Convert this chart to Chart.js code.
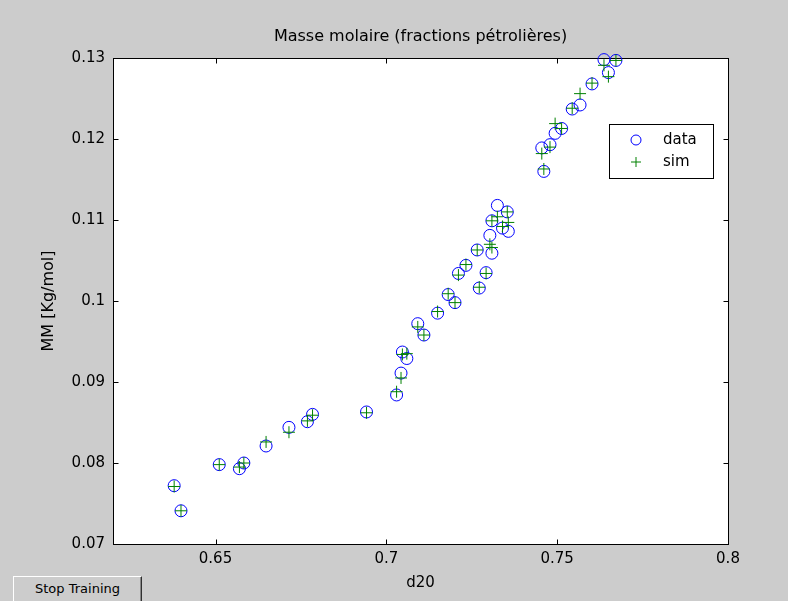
<!DOCTYPE html>
<html>
<head>
<meta charset="utf-8">
<title>Masse molaire</title>
<script src="https://cdn.jsdelivr.net/npm/chart.js@4/dist/chart.umd.min.js"></script>
<style>
  html, body { margin: 0; padding: 0; background: #cccccc; overflow: hidden; }
  #wrap { position: relative; width: 788px; height: 601px; }
  #stop {
    position: absolute; left: 13px; top: 576px; width: 129px; height: 30px;
    margin: 0; padding: 0 0 5px 0; background: #cccccc; color: #000;
    font: 13px "DejaVu Sans", sans-serif;
    border-top: 1px solid #ffffff; border-left: 1px solid #ffffff;
    border-right: 1px solid #303030; border-bottom: 1px solid #303030;
    box-shadow: inset -1px 0 0 #888888;
  }
</style>
</head>
<body>
<div id="wrap">
  <canvas id="mmChart" width="788" height="601"></canvas>
  <button id="stop">Stop Training</button>
</div>
<script>
// densité d20 des fractions (abscisse commune aux deux séries)
const d20 = [0.6379, 0.6399, 0.6511, 0.6570, 0.6583, 0.6648, 0.6715, 0.6769, 0.6784, 0.6942,
  0.7030, 0.7043, 0.7047, 0.7060, 0.7092, 0.7110, 0.7150, 0.7181, 0.7201, 0.7211,
  0.7233, 0.7272, 0.7292, 0.7266, 0.7309, 0.7303, 0.7309, 0.7325, 0.7354, 0.7340,
  0.7357, 0.7461, 0.7455, 0.7479, 0.7494, 0.7513, 0.7544, 0.7567, 0.7602, 0.7637,
  0.7650, 0.7672];

// masse molaire mesurée (data)
const mmData = [0.0772, 0.0741, 0.0798, 0.0793, 0.0800, 0.0821, 0.0844, 0.0851, 0.0860, 0.0863,
  0.0884, 0.0911, 0.0937, 0.0929, 0.0972, 0.0958, 0.0985, 0.1008, 0.0998, 0.1034,
  0.1044, 0.1016, 0.1035, 0.1063, 0.1059, 0.1081, 0.1099, 0.1118, 0.1110, 0.1090,
  0.1086, 0.1160, 0.1189, 0.1193, 0.1207, 0.1213, 0.1237, 0.1242, 0.1268, 0.1298,
  0.1282, 0.1297];

// masse molaire simulée par le réseau (sim)
const mmSim = [0.0771, 0.0741, 0.0798, 0.0795, 0.0800, 0.0826, 0.0838, 0.0852, 0.0859, 0.0862,
  0.0888, 0.0905, 0.0934, 0.0935, 0.0968, 0.0958, 0.0987, 0.1009, 0.0998, 0.1032,
  0.1045, 0.1017, 0.1034, 0.1063, 0.1066, 0.1070, 0.1099, 0.1104, 0.1110, 0.1092,
  0.1097, 0.1163, 0.1182, 0.1190, 0.1219, 0.1213, 0.1238, 0.1256, 0.1269, 0.1291,
  0.1277, 0.1297];

const xTicks = [0.65, 0.7, 0.75, 0.8];
const xTickLabels = ["0.65", "0.7", "0.75", "0.8"];
const yTicks = [0.07, 0.08, 0.09, 0.1, 0.11, 0.12, 0.13];
const yTickLabels = ["0.07", "0.08", "0.09", "0.1", "0.11", "0.12", "0.13"];

const FONT = '"DejaVu Sans", sans-serif';

// fond blanc, cadre et graduations vers l'intérieur (style MATLAB)
const matlabFrame = {
  id: "matlabFrame",
  beforeDraw(chart) {
    const { ctx, chartArea: a } = chart;
    ctx.save();
    ctx.fillStyle = "#ffffff";
    ctx.fillRect(a.left, a.top, a.right - a.left, a.bottom - a.top);
    ctx.restore();
  },
  beforeDatasetsDraw(chart) {
    const { ctx, chartArea: a, scales } = chart;
    const L = Math.round(a.left) + 0.5, R = Math.round(a.right) + 0.5;
    const T = Math.round(a.top) + 0.5, B = Math.round(a.bottom) + 0.5;
    ctx.save();
    ctx.strokeStyle = "#000000";
    ctx.lineWidth = 1;
    ctx.strokeRect(L, T, R - L, B - T);
    ctx.beginPath();
    scales.x.ticks.forEach(t => {
      const px = Math.round(scales.x.getPixelForValue(t.value)) + 0.5;
      ctx.moveTo(px, B); ctx.lineTo(px, B - 5);
      ctx.moveTo(px, T); ctx.lineTo(px, T + 5);
    });
    scales.y.ticks.forEach(t => {
      const py = Math.round(scales.y.getPixelForValue(t.value)) + 0.5;
      ctx.moveTo(L, py); ctx.lineTo(L + 5, py);
      ctx.moveTo(R, py); ctx.lineTo(R - 5, py);
    });
    ctx.stroke();
    ctx.restore();
  },
  afterDraw(chart) {
    const { ctx, chartArea: a } = chart;
    const w = 104, h = 54;
    const left = a.right - 15 - w, top = a.top + 66;
    ctx.save();
    ctx.fillStyle = "#ffffff";
    ctx.fillRect(left, top, w, h);
    ctx.strokeStyle = "#000000";
    ctx.lineWidth = 1;
    ctx.strokeRect(left + 0.5, top + 0.5, w, h);
    const ds = chart.data.datasets;
    const mx = left + 27, tx = left + 54;
    const rows = [top + 16, top + 38];
    // data : cercle bleu
    ctx.strokeStyle = ds[0].borderColor;
    ctx.beginPath();
    ctx.arc(mx, rows[0], 5, 0, Math.PI * 2);
    ctx.stroke();
    // sim : croix verte
    ctx.strokeStyle = ds[1].borderColor;
    ctx.beginPath();
    ctx.moveTo(mx - 5, rows[1]); ctx.lineTo(mx + 5, rows[1]);
    ctx.moveTo(mx, rows[1] - 5); ctx.lineTo(mx, rows[1] + 5);
    ctx.stroke();
    ctx.fillStyle = "#000000";
    ctx.font = "15px " + FONT;
    ctx.textBaseline = "middle";
    ctx.textAlign = "left";
    ctx.fillText(ds[0].label, tx, rows[0]);
    ctx.fillText(ds[1].label, tx, rows[1]);
    ctx.restore();
  }
};

const ctx = document.getElementById("mmChart");

new Chart(ctx, {
  type: "scatter",
  data: {
    datasets: [
      {
        label: "data",
        data: d20.map((x, i) => ({ x: x, y: mmData[i] })),
        pointStyle: "circle",
        pointRadius: 6,
        borderColor: "#0000ff",
        backgroundColor: "rgba(0,0,0,0)",
        borderWidth: 1,
        order: 2,
        clip: false
      },
      {
        label: "sim",
        data: d20.map((x, i) => ({ x: x, y: mmSim[i] })),
        pointStyle: "cross",
        pointRadius: 6,
        borderColor: "#008000",
        backgroundColor: "#008000",
        borderWidth: 1,
        order: 1,
        clip: false
      }
    ]
  },
  options: {
    responsive: false,
    animation: false,
    events: [],
    layout: { padding: { left: 0, right: 60, top: 0, bottom: 0 } },
    plugins: {
      legend: { display: false },
      tooltip: { enabled: false },
      title: {
        display: true,
        text: "Masse molaire (fractions pétrolières)",
        fullSize: false,
        color: "#000000",
        font: { family: FONT, size: 16, weight: "normal", lineHeight: 1.2 },
        padding: { top: 27, bottom: 11.8 }
      }
    },
    scales: {
      x: {
        type: "linear",
        position: "bottom",
        min: 0.62,
        max: 0.8,
        grid: { display: false, drawTicks: false, tickLength: 0 },
        border: { display: false },
        afterBuildTicks: s => { s.ticks = xTicks.map(v => ({ value: v })); },
        afterFit: s => { s.height = 57; },
        ticks: {
          autoSkip: false,
          maxRotation: 0,
          padding: 6,
          color: "#000000",
          font: { family: FONT, size: 15, lineHeight: 1.2 },
          callback: (v, i) => xTickLabels[i]
        },
        title: {
          display: true,
          text: "d20",
          color: "#000000",
          font: { family: FONT, size: 15, lineHeight: 1.2 },
          padding: { top: 0, bottom: 8.5 }
        }
      },
      y: {
        type: "linear",
        position: "left",
        min: 0.07,
        max: 0.13,
        grid: { display: false, drawTicks: false, tickLength: 0 },
        border: { display: false },
        afterBuildTicks: s => { s.ticks = yTicks.map(v => ({ value: v })); },
        afterFit: s => { s.width = 113; },
        ticks: {
          autoSkip: false,
          padding: 8,
          color: "#000000",
          font: { family: FONT, size: 15, lineHeight: 1.2 },
          callback: (v, i) => yTickLabels[i]
        },
        title: {
          display: true,
          text: "MM [Kg/mol]",
          color: "#000000",
          font: { family: FONT, size: 16, lineHeight: 1.2 },
          padding: { top: 39.4, bottom: 0 }
        }
      }
    }
  },
  plugins: [matlabFrame]
});
</script>
</body>
</html>
